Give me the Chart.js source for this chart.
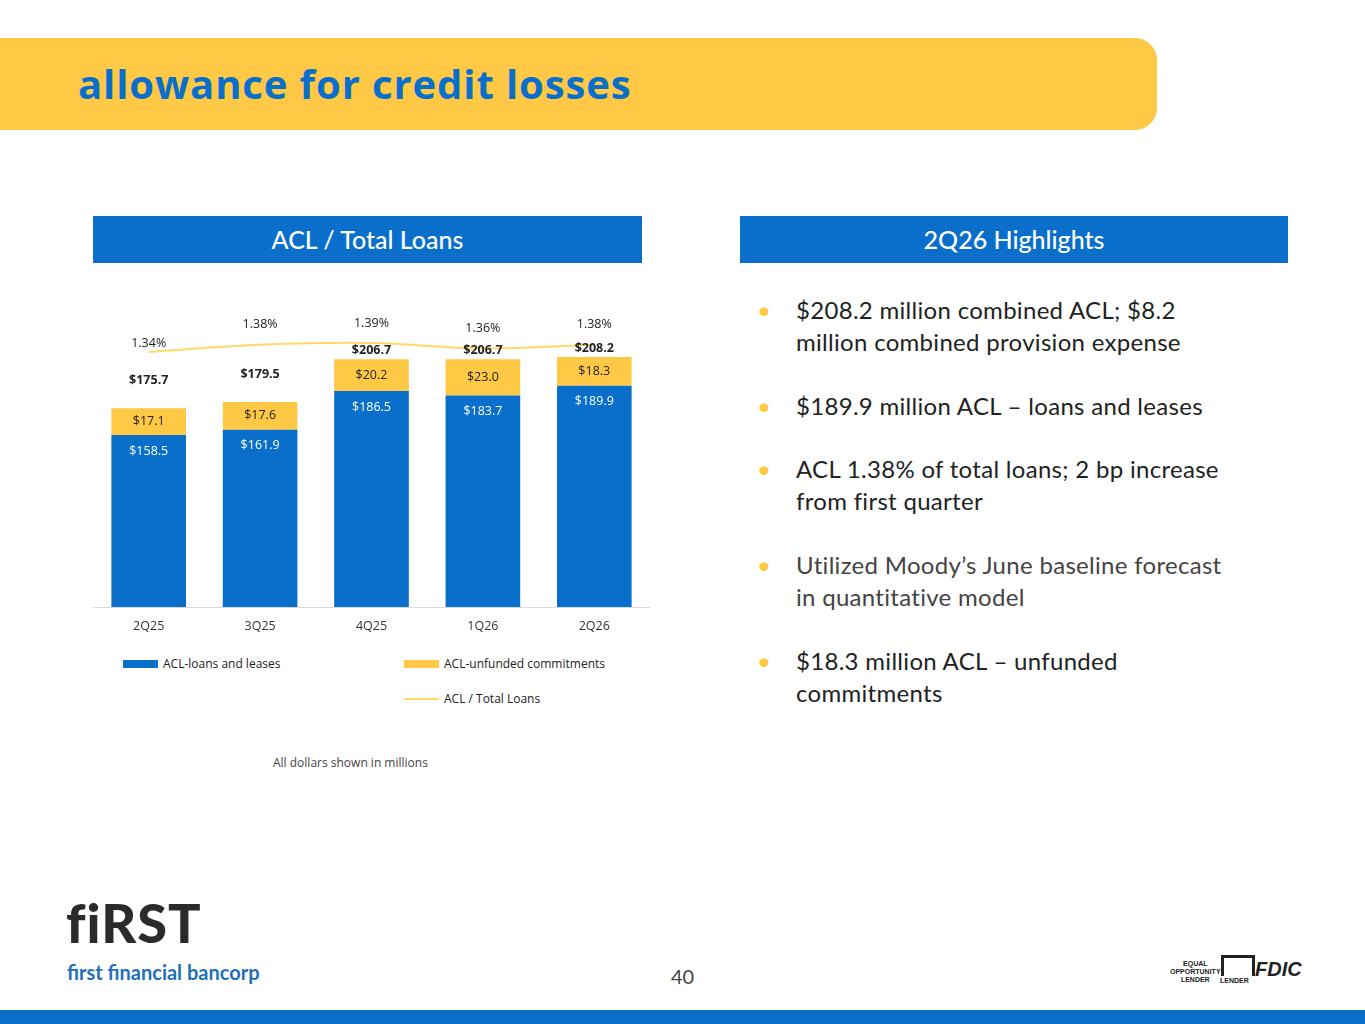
<!DOCTYPE html>
<html><head><meta charset="utf-8">
<script src="https://cdn.jsdelivr.net/npm/chart.js@4"></script>
<style>
body{margin:0;width:1365px;height:1024px;position:relative;background:#fff;font-family:"Open Sans",sans-serif;overflow:hidden}
.band{position:absolute;left:0;top:38px;width:1157px;height:92px;background:#FFC845;border-radius:0 22px 22px 0}
.title{position:absolute;left:78px;top:56px;font:bold 40px "Open Sans",sans-serif;color:#0A6FCB;letter-spacing:0.9px}
.box{position:absolute;top:216px;height:47px;background:#0A6FCB;color:#fff;font:500 25px Lato,sans-serif;text-align:center;line-height:47px}
.bul{position:absolute;left:757px;font:24px Lato,sans-serif;color:#222;line-height:32px;letter-spacing:0.3px}
.bul span{color:#FFC845;position:absolute;left:0}
.bul div{margin-left:39px;width:440px}
.leg{position:absolute;font:12px "Open Sans",sans-serif;color:#222}
.sw{position:absolute;width:35px;height:8px}
</style></head><body>
<div class="band"></div>
<div class="title">allowance for credit losses</div>
<div class="box" style="left:93px;width:549px">ACL / Total Loans</div>
<div class="box" style="left:740px;width:548px">2Q26 Highlights</div>
<div style="position:absolute;left:93px;top:300px;width:557px;height:340px"><canvas id="c"></canvas></div>
<div class="sw" style="left:123px;top:660px;background:#0A6FCB"></div>
<div class="leg" style="left:163px;top:655px">ACL-loans and leases</div>
<div class="sw" style="left:404px;top:660px;background:#FFC845"></div>
<div class="leg" style="left:444px;top:655px">ACL-unfunded commitments</div>
<div class="sw" style="left:404px;top:698px;height:2px;background:#FFD966"></div>
<div class="leg" style="left:444px;top:690px">ACL / Total Loans</div>
<div class="leg" style="left:273px;top:754px;color:#444">All dollars shown in millions</div>
<div class="bul" style="top:294px"><span>•</span><div>$208.2 million combined ACL; $8.2 million combined provision expense</div></div>
<div class="bul" style="top:390px"><span>•</span><div>$189.9 million ACL – loans and leases</div></div>
<div class="bul" style="top:453px"><span>•</span><div>ACL 1.38% of total loans; 2 bp increase from first quarter</div></div>
<div class="bul" style="top:549px;color:#444"><span>•</span><div>Utilized Moody’s June baseline forecast in quantitative model</div></div>
<div class="bul" style="top:645px"><span>•</span><div>$18.3 million ACL – unfunded commitments</div></div>
<div style="position:absolute;left:66px;top:890px;font:900 54px Lato,sans-serif;color:#2b2b2b;letter-spacing:1px">fiRST</div>
<div style="position:absolute;left:67px;top:960px;font:bold 20px Lato,sans-serif;color:#1F6FB8">first financial bancorp</div>
<div style="position:absolute;left:671px;top:964px;font:20px Lato,sans-serif;color:#444">40</div>
<div style="position:absolute;left:1170px;top:960px;font:bold 7px sans-serif;line-height:8px;text-align:center;color:#222">EQUAL<br>OPPORTUNITY<br>LENDER</div>
<div style="position:absolute;left:1221px;top:955px;width:28px;height:18px;border:3px solid #222;border-bottom:none"></div>
<div style="position:absolute;left:1220px;top:977px;font:bold 7px sans-serif;color:#222">LENDER</div>
<div style="position:absolute;left:1255px;top:958px;font:900 italic 20px sans-serif;color:#222">FDIC</div>
<div style="position:absolute;left:0;top:1010px;width:1365px;height:14px;background:#0A6FCB"></div>
<script>
const quarters = ['2Q25','3Q25','4Q25','1Q26','2Q26'];
const loansLeases = [158.5, 161.9, 186.5, 183.7, 189.9];
const unfunded = [17.1, 17.6, 20.2, 23.0, 18.3];
const totals = [175.7, 179.5, 206.7, 206.7, 208.2];
const aclPct = [1.34, 1.38, 1.39, 1.36, 1.38];

const lbl = {
  id:'lbl',
  afterDatasetsDraw(ch){
    const c = ch.ctx;
    c.save(); c.textAlign='center'; c.textBaseline='middle';
    const m0 = ch.getDatasetMeta(0), m1 = ch.getDatasetMeta(1), m2 = ch.getDatasetMeta(2);
    quarters.forEach((q,i)=>{
      const b0 = m0.data[i], b1 = m1.data[i], p = m2.data[i];
      c.font = '12.5px "Open Sans", sans-serif';
      c.fillStyle = '#fff'; c.fillText('$'+loansLeases[i].toFixed(1), b0.x, b0.y+16);
      c.fillStyle = '#222'; c.fillText('$'+unfunded[i].toFixed(1), b1.x, (b1.y+b0.y)/2);
      c.fillText(aclPct[i].toFixed(2)+'%', p.x, p.y - (i==0?9:20));
      c.font = 'bold 12.5px "Open Sans", sans-serif';
      c.fillText('$'+totals[i].toFixed(1), b1.x, b1.y - (i<2?28:9));
    });
    c.restore();
  }
};

new Chart(document.getElementById('c'), {
  data:{ labels: quarters, datasets:[
    { type:'bar', data: loansLeases, backgroundColor:'#0A6FCB', stack:'s', yAxisID:'y', order:2, categoryPercentage:1, barPercentage:0.67 },
    { type:'bar', data: unfunded, backgroundColor:'#FFC845', stack:'s', yAxisID:'y', order:2, categoryPercentage:1, barPercentage:0.67 },
    { type:'line', data: aclPct, borderColor:'#FFD966', borderWidth:2, pointRadius:0, tension:0.4, yAxisID:'y1', order:1 }
  ]},
  options:{ animation:false, responsive:true, maintainAspectRatio:false,
    layout:{padding:0},
    plugins:{legend:{display:false}, tooltip:{enabled:false}},
    scales:{
      x:{ stacked:true, grid:{display:false, drawTicks:false}, border:{color:'#d9d9d9'},
          ticks:{color:'#333', font:{size:12.5, family:'"Open Sans", sans-serif'}, padding:12},
          afterFit(s){ s.height = 33; } },
      y:{ stacked:true, display:false, min:49, max:244.5 },
      y1:{ display:false, min:-0.077, max:1.629 }
    }
  },
  plugins:[lbl]
});
</script>
</body></html>
